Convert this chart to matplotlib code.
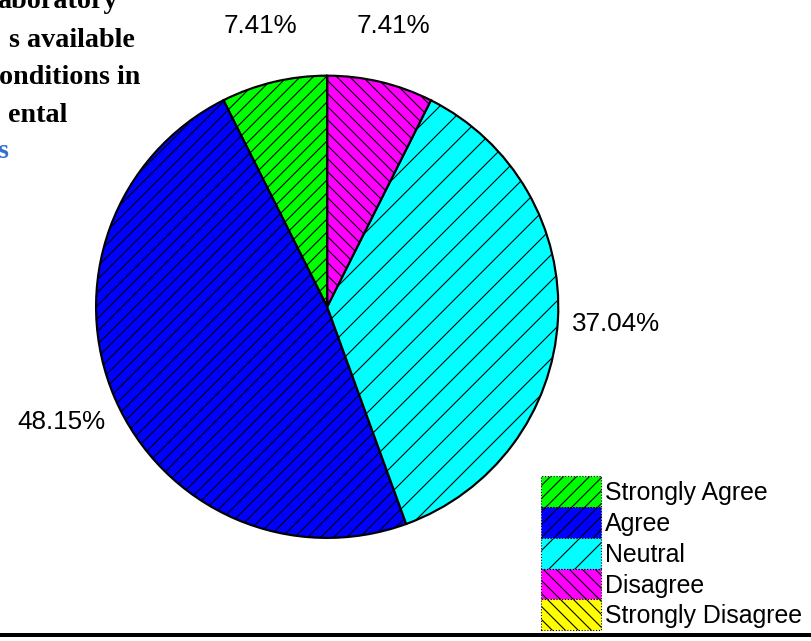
import matplotlib
matplotlib.use("Agg")
from matplotlib import pyplot as plt
from matplotlib.patches import Patch
from matplotlib.lines import Line2D

categories = ["Strongly Agree", "Agree", "Neutral", "Disagree", "Strongly Disagree"]
percentages = [7.41, 48.15, 37.04, 7.41, 0.0]
colors = ["#00ff00", "#0000ff", "#00ffff", "#ff00ff", "#ffff00"]
hatches = ["//", "//", "/", "\\\\", "\\\\"]
title_lines = ["aboratory", "s available", "onditions in", "ental"]

plt.rcParams["font.family"] = ["Liberation Sans", "DejaVu Sans"]
plt.rcParams["hatch.linewidth"] = 1.0

DPI = 78
W, H = 811, 641
fig = plt.figure(figsize=(811.4 / DPI, 641.4 / DPI), dpi=DPI)

# pie centred at (327, 307) px, radius 231 px
cx, cy, r = 327, 307, 231
ax = fig.add_axes([(cx - r) / W, 1 - (cy + r) / H, 2 * r / W, 2 * r / H])


def pct_label(p):
    return "" if p < 0.005 else "%.2f%%" % p


wedges, texts, autotexts = ax.pie(
    percentages,
    colors=colors,
    startangle=90,
    autopct=pct_label,
    pctdistance=1.25,
    wedgeprops=dict(edgecolor="black", linewidth=2.0),
    textprops=dict(fontsize=24),
)
for w, h in zip(wedges, hatches):
    w.set_hatch(h)
ax.set_xlim(-1, 1)
ax.set_ylim(-1, 1)
ax.set_aspect("equal")
ax.axis("off")

# cropped title text at top left
title_right = [118, 135, 140, 67]
title_base = [8, 47, 84, 122]
for txt, xr, yb in zip(title_lines, title_right, title_base):
    fig.text(xr / W, 1 - yb / H, txt, ha="right", va="baseline",
             fontsize=26, fontweight="bold", family="Liberation Serif")
fig.text(8 / W, 1 - 158 / H, "s", ha="right", va="baseline", color="#3070d0",
         fontsize=26, fontweight="bold", family="Liberation Serif")

handles = [Patch(facecolor=c, hatch=h, edgecolor="black", linestyle=":", linewidth=1)
           for c, h in zip(colors, hatches)]
fig.legend(handles, categories, loc="upper left",
           bbox_to_anchor=(541 / W, 1 - 476 / H),
           frameon=False, fontsize=23, borderpad=0, borderaxespad=0,
           handlelength=2.4, handleheight=1.53, labelspacing=0, handletextpad=0.15)

# bottom rule
fig.add_artist(Line2D([0, 1], [1 - 635.5 / H] * 2, transform=fig.transFigure,
                      color="black", linewidth=3.7))

fig.savefig("out.png", dpi=DPI)
